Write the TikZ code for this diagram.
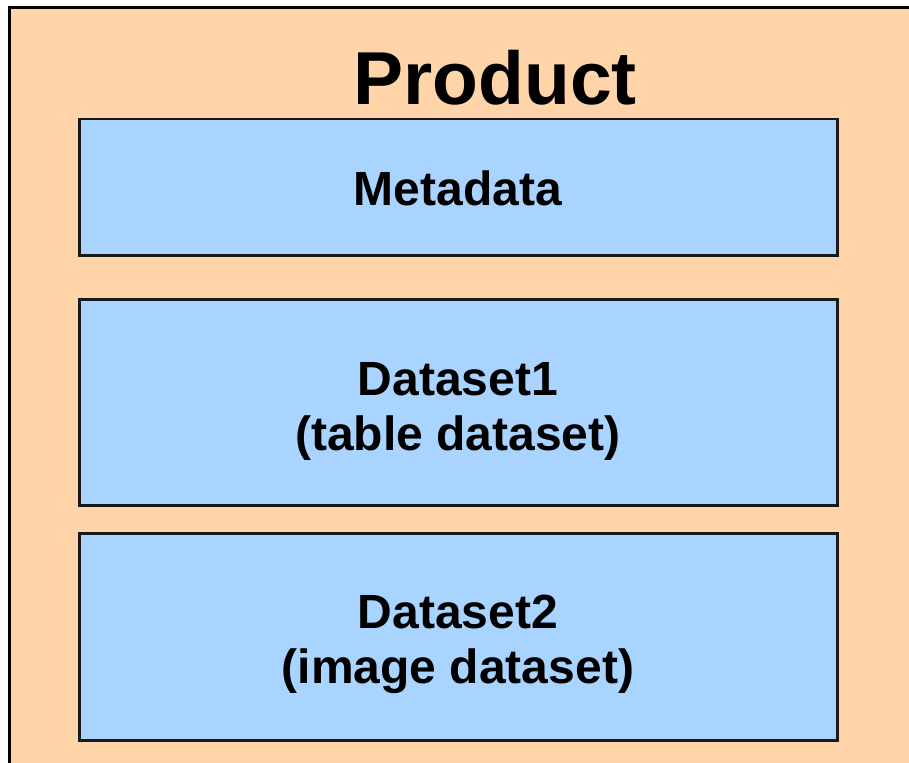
\documentclass[tikz,border=0pt]{standalone}
\usepackage{fontspec}
\setmainfont{Liberation Sans}
\usetikzlibrary{shadows}
\definecolor{prodfill}{HTML}{FFD4A8}
\definecolor{partfill}{HTML}{A8D4FF}
\begin{document}
\begin{tikzpicture}[x=1pt,y=-1pt,
  part/.style={draw=black!90, line width=2.5pt, fill=partfill,
    minimum width=758pt, inner sep=0pt, anchor=north west,
    drop shadow={shadow xshift=1.5pt, shadow yshift=-1.5pt, opacity=0.45, fill=black!70}},
  parttext/.style={font=\fontsize{48}{55}\selectfont\bfseries, anchor=base, inner sep=0pt},
  titletext/.style={font=\fontsize{75}{86}\selectfont\bfseries, anchor=base, inner sep=0pt}]
\useasboundingbox (0,0) rectangle (909,762);
\clip (0,0) rectangle (909,762);
% product container
\draw[line width=3pt, fill=prodfill] (9,8) rectangle (960,820);
\node[titletext] (title) at (495,105) {Product};
% parts of the product
\node[part, minimum height=136pt] (meta) at (78,118) {};
\node[part, minimum height=206pt] (ds1) at (78,298) {};
\node[part, minimum height=207pt] (ds2) at (78,532) {};
\node[parttext] (metaname) at (458,205) {Metadata};
\node[parttext] (ds1name) at (458,395) {Dataset1};
\node[parttext] (ds1kind) at (458,450) {(table dataset)};
\node[parttext] (ds2name) at (458,628) {Dataset2};
\node[parttext] (ds2kind) at (458,683) {(image dataset)};
\end{tikzpicture}
\end{document}
